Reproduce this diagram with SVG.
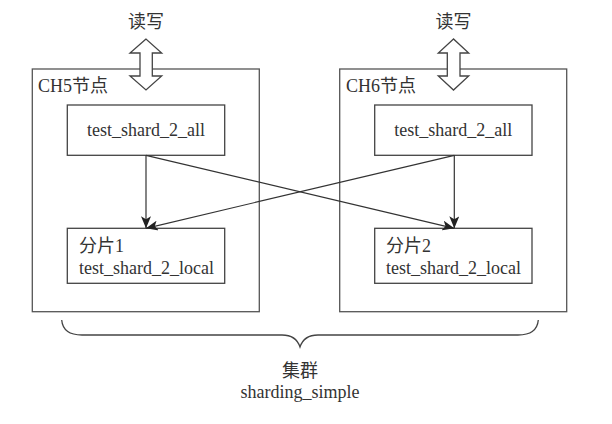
<svg xmlns="http://www.w3.org/2000/svg" width="612" height="424" viewBox="0 0 612 424" font-family="Liberation Serif, DejaVu Serif, Noto Sans CJK SC, serif">
<style>
.box{fill:none;stroke:#555;stroke-width:1.3}
.ibox{fill:#fff;stroke:#444;stroke-width:1.3}
.dbl{fill:#fff;stroke:#444;stroke-width:1.3}
.t{font-size:18px;fill:#333}
.c{text-anchor:middle}
.ln{stroke:#333;stroke-width:1.2;fill:none;marker-end:url(#ah)}
</style>
<defs>
<marker id="ah" viewBox="0 0 12 10" refX="12" refY="5" markerWidth="12" markerHeight="10" markerUnits="userSpaceOnUse" orient="auto">
<path d="M0,0 L12,5 L0,10 L3,5 Z" fill="#222"/>
</marker>
</defs>
<g id="node-ch5">
<rect class="box" x="32.3" y="69" width="227" height="242.7"/>
<text class="t" x="38" y="92">CH5节点</text>
</g>
<g id="node-ch6">
<rect class="box" x="339.7" y="69" width="227" height="242.7"/>
<text class="t" x="346" y="92">CH6节点</text>
</g>
<g id="node-rw1">
<text class="t c" x="146" y="28">读写</text>
<polygon class="dbl" points="146,39 130,53 140,53 140,76 130,76 146,90 161.7,76 152.3,76 152.3,53 161.7,53"/>
</g>
<g id="node-rw2">
<text class="t c" x="453.5" y="28">读写</text>
<polygon class="dbl" points="453.5,39 438.3,53 447.3,53 447.3,76 438.3,76 453.5,90 468.7,76 460,76 460,53 468.7,53"/>
</g>
<g id="node-all1">
<rect class="ibox" x="67.3" y="105" width="157.4" height="50.3"/>
<text class="t c" x="146" y="136">test_shard_2_all</text>
</g>
<g id="node-all2">
<rect class="ibox" x="374.7" y="105" width="157.3" height="50.3"/>
<text class="t c" x="453.3" y="136">test_shard_2_all</text>
</g>
<g id="node-local1">
<rect class="ibox" x="67.3" y="228.3" width="157.4" height="55"/>
<text class="t" x="79" y="252">分片1</text>
<text class="t" x="79" y="273.5">test_shard_2_local</text>
</g>
<g id="node-local2">
<rect class="ibox" x="374.7" y="228.3" width="157.3" height="55"/>
<text class="t" x="386" y="252">分片2</text>
<text class="t" x="386" y="273.5">test_shard_2_local</text>
</g>
<g id="connectors">
<line class="ln" x1="146" y1="155.3" x2="146" y2="228.3"/>
<line class="ln" x1="454.3" y1="155.3" x2="454.3" y2="228.3"/>
<line class="ln" x1="146" y1="155.3" x2="454.3" y2="228.3"/>
<line class="ln" x1="454.3" y1="155.3" x2="146" y2="228.3"/>
</g>
<g id="node-cluster">
<path d="M61.7,320 Q63,335 82,335 L282,335 Q296,335 300,347 Q304,335 318,335 L518,335 Q537,335 538.3,320" fill="none" stroke="#444" stroke-width="1.3"/>
<text class="t c" x="300" y="377">集群</text>
<text class="t c" x="300" y="398">sharding_simple</text>
</g>
</svg>
